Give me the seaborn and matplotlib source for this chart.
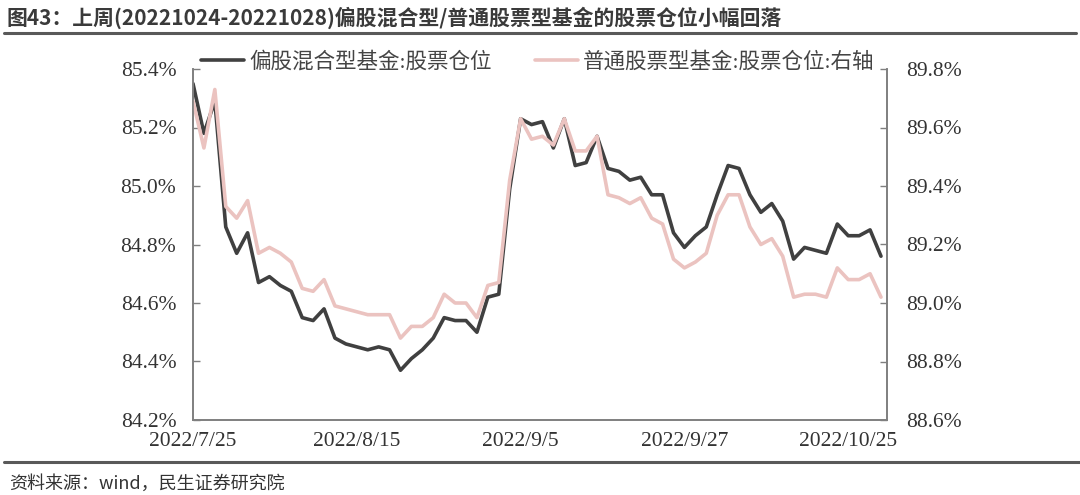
import matplotlib
matplotlib.use('Agg')
import matplotlib.pyplot as plt
import numpy as np
import pandas as pd
import seaborn as sns

# trading days 2022-07-25 .. 2022-10-28 (market closed 9/12 and 10/3-10/7)
holidays = ['2022-09-12', '2022-10-03', '2022-10-04', '2022-10-05', '2022-10-06', '2022-10-07']
dates = pd.bdate_range('2022-07-25', '2022-10-28')
dates = dates[~dates.isin(pd.to_datetime(holidays))]

# 偏股混合型基金:股票仓位 (%), left axis
hybrid = [85.35, 85.18, 85.29, 84.86, 84.77, 84.84, 84.67, 84.69, 84.66, 84.64,
          84.55, 84.54, 84.58, 84.48, 84.46, 84.45, 84.44, 84.45, 84.44, 84.37,
          84.41, 84.44, 84.48, 84.55, 84.54, 84.54, 84.50, 84.62, 84.63, 84.99,
          85.23, 85.21, 85.22, 85.13, 85.23, 85.07, 85.08, 85.17, 85.06, 85.05,
          85.02, 85.03, 84.97, 84.97, 84.84, 84.79, 84.83, 84.86, 84.97, 85.07,
          85.06, 84.97, 84.91, 84.94, 84.88, 84.75, 84.79, 84.78, 84.77, 84.87,
          84.83, 84.83, 84.85, 84.76]

# 普通股票型基金:股票仓位 (%), right axis
stock = [89.69, 89.53, 89.73, 89.33, 89.29, 89.35, 89.17, 89.19, 89.17, 89.14,
         89.05, 89.04, 89.08, 88.99, 88.98, 88.97, 88.96, 88.96, 88.96, 88.88,
         88.92, 88.92, 88.95, 89.03, 89.00, 89.00, 88.95, 89.06, 89.07, 89.42,
         89.63, 89.56, 89.57, 89.54, 89.63, 89.52, 89.52, 89.57, 89.37, 89.36,
         89.34, 89.36, 89.29, 89.27, 89.15, 89.12, 89.14, 89.17, 89.30, 89.37,
         89.37, 89.26, 89.20, 89.22, 89.16, 89.02, 89.03, 89.03, 89.02, 89.12,
         89.08, 89.08, 89.10, 89.02]

tick_dates = ['2022-07-25', '2022-08-15', '2022-09-05', '2022-09-27', '2022-10-25']
tick_labels = ['2022/7/25', '2022/8/15', '2022/9/5', '2022/9/27', '2022/10/25']
left_ticks = [84.2, 84.4, 84.6, 84.8, 85.0, 85.2, 85.4]
right_ticks = [88.6, 88.8, 89.0, 89.2, 89.4, 89.6, 89.8]

df = pd.DataFrame({'day': np.arange(len(dates)), 'date': dates,
                   'hybrid': hybrid, 'stock': stock})

sns.set_theme(style='white')
plt.rcParams['font.family'] = ['Liberation Serif', 'Noto Sans CJK SC']
plt.rcParams['axes.unicode_minus'] = False

dark = '#404040'
pink = '#EBC3C0'
spine_c = '#7f7f7f'
fs = 15.5

fig = plt.figure(figsize=(10.8, 4.95), dpi=100)
ax = fig.add_axes([193 / 1080, 1 - 420 / 495, 694 / 1080, 351 / 495])
ax2 = ax.twinx()

sns.lineplot(data=df, x='day', y='hybrid', ax=ax, color=dark, lw=2.6,
             label='偏股混合型基金:股票仓位')
sns.lineplot(data=df, x='day', y='stock', ax=ax2, color=pink, lw=2.6,
             label='普通股票型基金:股票仓位:右轴')

h1, l1 = ax.get_legend_handles_labels()
h2, l2 = ax2.get_legend_handles_labels()
ax.get_legend().remove()
ax2.get_legend().remove()

ax.set_xlim(0, 63.55)
ax.set_ylim(84.2, 85.4)
ax2.set_ylim(88.6, 89.8)

tick_pos = [int(df.index[df['date'] == pd.Timestamp(d)][0]) for d in tick_dates]
ax.set_xticks(tick_pos)
ax.set_xticklabels(tick_labels)
ax.set_yticks(left_ticks)
ax.set_yticklabels([f'{v:.1f}%' for v in left_ticks])
ax2.set_yticks(right_ticks)
ax2.set_yticklabels([f'{v:.1f}%' for v in right_ticks])
ax.set_xlabel('')
ax.set_ylabel('')
ax2.set_ylabel('')

for a in (ax, ax2):
    a.grid(False)
    for s in ('left', 'right', 'bottom'):
        a.spines[s].set_visible(True)
        a.spines[s].set_color(spine_c)
        a.spines[s].set_linewidth(1.2)
    a.spines['top'].set_visible(False)
ax.tick_params(axis='x', direction='in', length=5, width=1, color=spine_c,
               labelsize=fs, labelcolor='#333333', pad=9)
ax.tick_params(axis='y', direction='in', length=5, width=1, color=spine_c,
               labelsize=fs, labelcolor='#333333', pad=12, left=True)
ax2.tick_params(axis='y', direction='in', length=5, width=1, color=spine_c,
                labelsize=fs, labelcolor='#333333', pad=14, right=True)

fig.legend(h1 + h2, l1 + l2, loc='center', bbox_to_anchor=(0.498, 0.875),
           bbox_transform=fig.transFigure, ncol=2, frameon=False,
           fontsize=fs, handlelength=2.0, handletextpad=0.25, columnspacing=2.0,
           labelcolor='#444444')

# header / footer
fig.text(0.006, 1 - 18 / 495, '图43：上周(20221024-20221028)偏股混合型/普通股票型基金的股票仓位小幅回落',
         ha='left', va='center', fontsize=15, fontweight='bold', color='#3a3a3a',
         family=['Noto Sans CJK SC', 'DejaVu Sans'])
fig.add_artist(plt.Line2D([0.004, 0.996], [1 - 33 / 495] * 2, color='#595959', lw=2.2,
                          transform=fig.transFigure))
fig.add_artist(plt.Line2D([0.004, 1.0], [1 - 462 / 495] * 2, color='#595959', lw=2.2,
                          transform=fig.transFigure))
fig.text(0.008, 1 - 484 / 495, '资料来源：wind，民生证券研究院', ha='left', va='center',
         fontsize=13, color='#333333', family=['Noto Sans CJK SC', 'DejaVu Sans'])

fig.savefig('out.png', dpi=100)
